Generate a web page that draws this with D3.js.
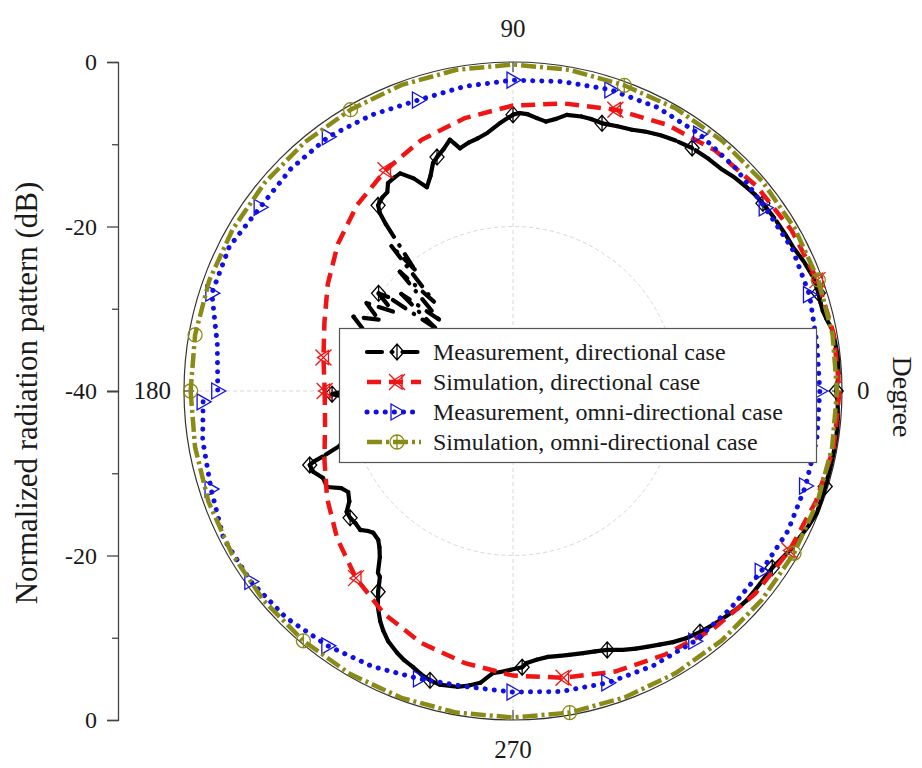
<!DOCTYPE html>
<html>
<head>
<meta charset="utf-8">
<script src="https://cdn.jsdelivr.net/npm/d3@7"></script>
<style>
  body { margin: 0; background: #ffffff; }
  svg { display: block; }
  text { font-family: "Liberation Serif", "Times New Roman", serif; fill: #1a1a1a; }
</style>
</head>
<body>
<svg id="chart" width="922" height="768"></svg>
<script>
// ---- data: angle in degrees (counter-clockwise from 0), level in dB ----

// Measurement, directional case  [angle, dB]
const measDir = [
  [0,-0.7],[3,-0.35],[6,-0.3],[9,-0.4],[11,-0.5],[13,-0.9],[14.5,-1.1],[16,-1.1],[17.8,-1.0],
  [21,-1.0],[24,-1.3],[27,-1.7],[30,-1.8],[33.5,-1.9],[36.9,-2.0],[39,-2.1],[41,-2.3],[44,-2.6],
  [47,-3.0],[50,-3.1],[53.6,-3.3],[57,-3.7],[60,-4.1],[63,-4.6],[65.5,-5.1],[68.5,-5.4],[71.6,-5.7],
  [74,-5.6],[76,-5.6],[79,-5.8],[81,-6.5],[83,-7.0],[85,-6.7],[87,-6.3],[88.6,-6.2],[90,-6.4],
  [92.8,-7.4],[95.8,-8.5],[98,-9.0],[100,-9.3],[102.3,-9.8],[104.1,-8.5],[106,-9.4],[108,-10.1],
  [109.3,-10.6],[111,-12.0],[112.9,-13.1],[115,-11.5],[117.4,-10.2],[119,-10.3],[121,-10.5],
  [122.3,-11.4],[124,-11.6],[126,-12.1],[126.8,-13.0],[127.3,-14.5],[129,-21.0],[130,-17.0],
  [131.5,-25.5],[133.5,-20.0],[136,-27.5],[139,-22.0],[141,-27.8],[143,-21.0],[144,-19.8],
  [146.5,-22.5],[149,-19.2],[152,-21.5],[155,-18.6],[158,-20.5],[162,-23.0],[165,-25.0],[168,-22.5],
  [171,-24.5],[174,-21.5],[177,-23.0],[181,-18.0],[183,-21.0],[186,-23.5],[189,-21.0],[192,-22.5],
  [195,-19.5],[197.7,-17.7],[199,-15.5],[199.5,-14.3],[200,-13.7],[202,-13.8],[204.6,-14.6],
  [207.3,-14.55],[209.5,-16.0],[211.5,-16.5],[214,-16.0],[216,-15.0],[217.9,-14.9],[220,-15.0],
  [222.3,-14.9],[224,-15.5],[225.4,-15.8],[227.8,-15.6],[229.5,-15.0],[231.3,-14.1],[233.4,-12.45],
  [234.4,-12.2],[236.1,-10.6],[238,-9.0],[240,-7.7],[241.5,-6.9],[243.5,-6.0],[246.1,-5.2],
  [248,-4.7],[250.1,-4.3],[252,-3.8],[254,-3.4],[256,-3.2],[259.3,-3.4],[261.5,-3.8],[263.6,-4.3],
  [265.9,-5.6],[267.4,-5.8],[269.5,-6.1],[271.9,-6.4],[272.9,-6.9],[275,-7.2],[277.5,-7.4],
  [280,-7.3],[282,-7.2],[285,-7.0],[287.5,-6.8],[290,-6.5],[293,-5.8],[295.5,-5.3],[297.6,-4.9],
  [300,-4.4],[302.5,-3.8],[305,-3.3],[307.8,-2.9],[310.5,-2.6],[313.5,-2.3],[316,-2.0],[318.2,-1.85],
  [321,-1.9],[323.5,-1.9],[325.7,-1.85],[328,-1.5],[330.5,-1.1],[333,-0.85],[335.5,-0.5],
  [338.1,-0.2],[340.5,-0.25],[343,-0.3],[346,-0.3],[349,-0.3],[352,-0.3],[355,-0.35],[358,-0.5],[360,-0.7]
];
const measDirMarkers = [0,17.8,36.9,53.6,71.6,90,108,126,144,162,181,200,217.9,236.1,254,271.9,290,307.8,325.7,343];

// Simulation, directional case
const simDirAngle = [-180,-170,-160,-150,-140,-130,-120,-110,-100,-90,-80,-70,-60,-50,-40,-30,-20,-10,
                     0,10,20,30,40,50,60,70,80,90,100,110,120,130,140,150,160,170,180];
const simDirDb = [-17.1,-16.8,-15.6,-13.9,-12.1,-10.3,-8.7,-7.4,-6.4,-5.4,-4.6,-3.7,-3.0,-2.2,-1.6,-1.2,-0.8,-0.4,
                  -0.3,-0.4,-0.6,-0.9,-1.3,-1.8,-2.6,-3.6,-4.5,-5.3,-6.3,-7.5,-9.0,-10.5,-12.2,-14.0,-15.6,-16.6,-17.1];

// Measurement, omni-directional case
const measOmniAngle = [-178,-171,-162,-153,-144,-135,-126,-117,-108,-99,-90,-81,-72,-63,-54,-45,-36,-27,-18,-9,
                       0,9,18,27,36,45,54,63,72,81,90,99,108,117,126,135,144,153,162,171,180];
const measOmniDb = [-2.3,-1.8,-1.4,-0.5,-0.6,-1.0,-1.7,-2.4,-3.2,-3.6,-3.4,-3.0,-2.7,-2.5,-2.4,-2.6,-2.7,-2.5,-2.6,-2.6,
                    -2.7,-2.6,-2.1,-1.9,-2.1,-1.7,-1.4,-1.3,-1.5,-1.9,-2.2,-2.5,-2.8,-2.3,-1.8,-1.8,-2.0,-1.3,-1.5,-3.6,-4.1];

// Simulation, omni-directional case
const simOmniAngle = simDirAngle;
const simOmniDb = [-0.8,-0.75,-0.6,-0.5,-0.4,-0.35,-0.3,-0.3,-0.3,-0.3,-0.3,-0.35,-0.4,-0.45,-0.5,-0.55,-0.6,-0.6,
                   -0.6,-0.55,-0.5,-0.45,-0.4,-0.35,-0.35,-0.45,-0.35,-0.3,-0.35,-0.4,-0.5,-0.55,-0.6,-0.65,-0.7,-0.75,-0.8];

const radialTicksMajor = [-40, -20, 0];
const radialTicksMinor = [-30, -10];
const angleTicks = [0, 90, 180, 270];
const legendLabels = [
  "Measurement, directional case",
  "Simulation, directional case",
  "Measurement, omni-directional case",
  "Simulation, omni-directional case"
];

// ---- layout ----
const svg = d3.select("#chart");
const cx = 513, cy = 391, R = 329;

const rScale = d3.scaleLinear().domain([-40, 0]).range([0, R]);
// degrees counter-clockwise from east -> d3 radial angle (clockwise from north)
const aScale = d3.scaleLinear().domain([0, 360]).range([Math.PI / 2, Math.PI / 2 - 2 * Math.PI]);

const radial = d3.lineRadial().angle(d => aScale(d[0])).radius(d => rScale(d[1]));
const plot = svg.append("g").attr("transform", `translate(${cx},${cy})`);

const zip = (a, b) => a.map((v, i) => [v, b[i]]);
const simDir = zip(simDirAngle, simDirDb);
const measOmni = zip(measOmniAngle, measOmniDb);
const simOmni = zip(simOmniAngle, simOmniDb);

// ---- grid ----
const grid = plot.append("g").attr("fill", "none").attr("stroke", "#d8d8d8").attr("stroke-width", 1)
  .attr("stroke-dasharray", "4,3");
grid.append("circle").attr("r", rScale(-20));
grid.append("line").attr("x1", -R).attr("x2", R);
grid.append("line").attr("y1", -R).attr("y2", R);

plot.append("circle").attr("r", R).attr("fill", "none").attr("stroke", "#333").attr("stroke-width", 1.2);
angleTicks.forEach(a => {
  const p0 = d3.pointRadial(aScale(a), R), p1 = d3.pointRadial(aScale(a), R - 10);
  plot.append("line").attr("x1", p0[0]).attr("y1", p0[1]).attr("x2", p1[0]).attr("y2", p1[1])
    .attr("stroke", "#444").attr("stroke-width", 1.2);
});

// ---- marker shapes ----
const markerPath = {
  diamond: "M0,-8L7,0L0,8L-7,0Z M0,-8L0,8",
  xmark: "M-8,-8L8,8M-8,8L8,-8 M5,-7L-6,0L5,7Z",
  triangle: "M-6,-8L8,0L-6,8Z",
  circle: "M7,0A7,7 0 1,1 -7,0A7,7 0 1,1 7,0Z M0,-7L0,7"
};
function drawMarkers(g, pts, shape, color) {
  g.selectAll(null).data(pts).join("path")
    .attr("transform", d => { const p = d3.pointRadial(aScale(d[0]), rScale(d[1])); return `translate(${p[0]},${p[1]})`; })
    .attr("d", markerPath[shape]).attr("fill", "none").attr("stroke", color).attr("stroke-width", 1.3);
}

const styles = [
  { color: "#000000", width: 4.2, dash: "15,10,0.5,10", cap: "round", marker: "diamond" },
  { color: "#f01414", width: 4.5, dash: "14,8", cap: "butt", marker: "xmark" },
  { color: "#1010e6", width: 5, dash: "0.1,9", cap: "round", marker: "triangle" },
  { color: "#8a8a16", width: 4.5, dash: "15,4,3,4", cap: "butt", marker: "circle" }
];

// measured directional pattern: line pattern restarts at every sample
const gBlack = plot.append("g");
gBlack.selectAll(null).data(d3.pairs(measDir)).join("path")
  .attr("d", d => radial(d)).attr("fill", "none")
  .attr("stroke", styles[0].color).attr("stroke-width", styles[0].width)
  .attr("stroke-dasharray", styles[0].dash).attr("stroke-linecap", "round").attr("stroke-linejoin", "round");
drawMarkers(gBlack, measDir.filter(d => measDirMarkers.includes(d[0])), "diamond", "#000");

function drawSeries(data, st, markEvery) {
  const g = plot.append("g");
  g.append("path").attr("d", radial(data)).attr("fill", "none")
    .attr("stroke", st.color).attr("stroke-width", st.width)
    .attr("stroke-dasharray", st.dash).attr("stroke-linecap", st.cap);
  drawMarkers(g, data.filter((d, i) => i % markEvery === 0), st.marker, st.color);
}
drawSeries(simDir, styles[1], 5);
drawSeries(measOmni, styles[2], 2);
drawSeries(simOmni, styles[3], 5);

// ---- angle labels ----
svg.append("text").attr("x", 513).attr("y", 37).attr("text-anchor", "middle").attr("font-size", 25).text("90");
svg.append("text").attr("x", 513).attr("y", 758).attr("text-anchor", "middle").attr("font-size", 25).text("270");
svg.append("text").attr("x", 857).attr("y", 399).attr("text-anchor", "start").attr("font-size", 25).text("0");
svg.append("text").attr("x", 171).attr("y", 399).attr("text-anchor", "end").attr("font-size", 25).text("180");
svg.append("text").attr("transform", "translate(893,397) rotate(90)").attr("text-anchor", "middle")
  .attr("font-size", 28).text("Degree");

// ---- radial axis on the left (upper and lower half) ----
const axisX = 118;
const yTop = d3.scaleLinear().domain([-40, 0]).range([cy, cy - R]);
const yBot = d3.scaleLinear().domain([-40, 0]).range([cy, cy + R]);
const fmt = d => String(d);
function styleAxis(g) {
  g.select(".domain").attr("stroke", "#444").attr("stroke-width", 1.3);
  g.selectAll(".tick line").attr("stroke", "#444").attr("stroke-width", 1.3);
  g.selectAll(".tick text").attr("font-family", "Liberation Serif, Times New Roman, serif")
    .attr("font-size", 24).attr("fill", "#1a1a1a");
}
svg.append("g").attr("transform", `translate(${axisX},0)`)
  .call(d3.axisLeft(yTop).tickValues(radialTicksMajor).tickSize(11).tickPadding(10).tickFormat(fmt))
  .call(styleAxis);
svg.append("g").attr("transform", `translate(${axisX},0)`)
  .call(d3.axisLeft(yBot).tickValues(radialTicksMajor.filter(v => v !== -40)).tickSize(11).tickPadding(10).tickFormat(fmt))
  .call(styleAxis);
[yTop, yBot].forEach(s => {
  svg.append("g").attr("transform", `translate(${axisX},0)`)
    .call(d3.axisLeft(s).tickValues(radialTicksMinor).tickSize(6).tickFormat(""))
    .call(styleAxis).select(".domain").remove();
});
svg.append("text").attr("transform", "translate(37,393) rotate(-90)").attr("text-anchor", "middle")
  .attr("font-size", 31).text("Normalized radiation pattern (dB)");

// ---- legend ----
const lg = svg.append("g");
lg.append("rect").attr("x", 339.5).attr("y", 328.5).attr("width", 477).attr("height", 134)
  .attr("fill", "#fff").attr("stroke", "#555").attr("stroke-width", 1.2);
legendLabels.forEach((label, i) => {
  const y = 352 + i * 30, st = styles[i];
  lg.append("line").attr("x1", 367).attr("x2", 421).attr("y1", y).attr("y2", y)
    .attr("stroke", st.color).attr("stroke-width", st.width).attr("stroke-dasharray", st.dash)
    .attr("stroke-linecap", st.cap);
  lg.append("path").attr("transform", `translate(397,${y})`).attr("d", markerPath[st.marker])
    .attr("fill", "none").attr("stroke", st.color).attr("stroke-width", 1.3);
  lg.append("text").attr("x", 433).attr("y", y + 8).attr("font-size", 24).text(label);
});
</script>
</body>
</html>
